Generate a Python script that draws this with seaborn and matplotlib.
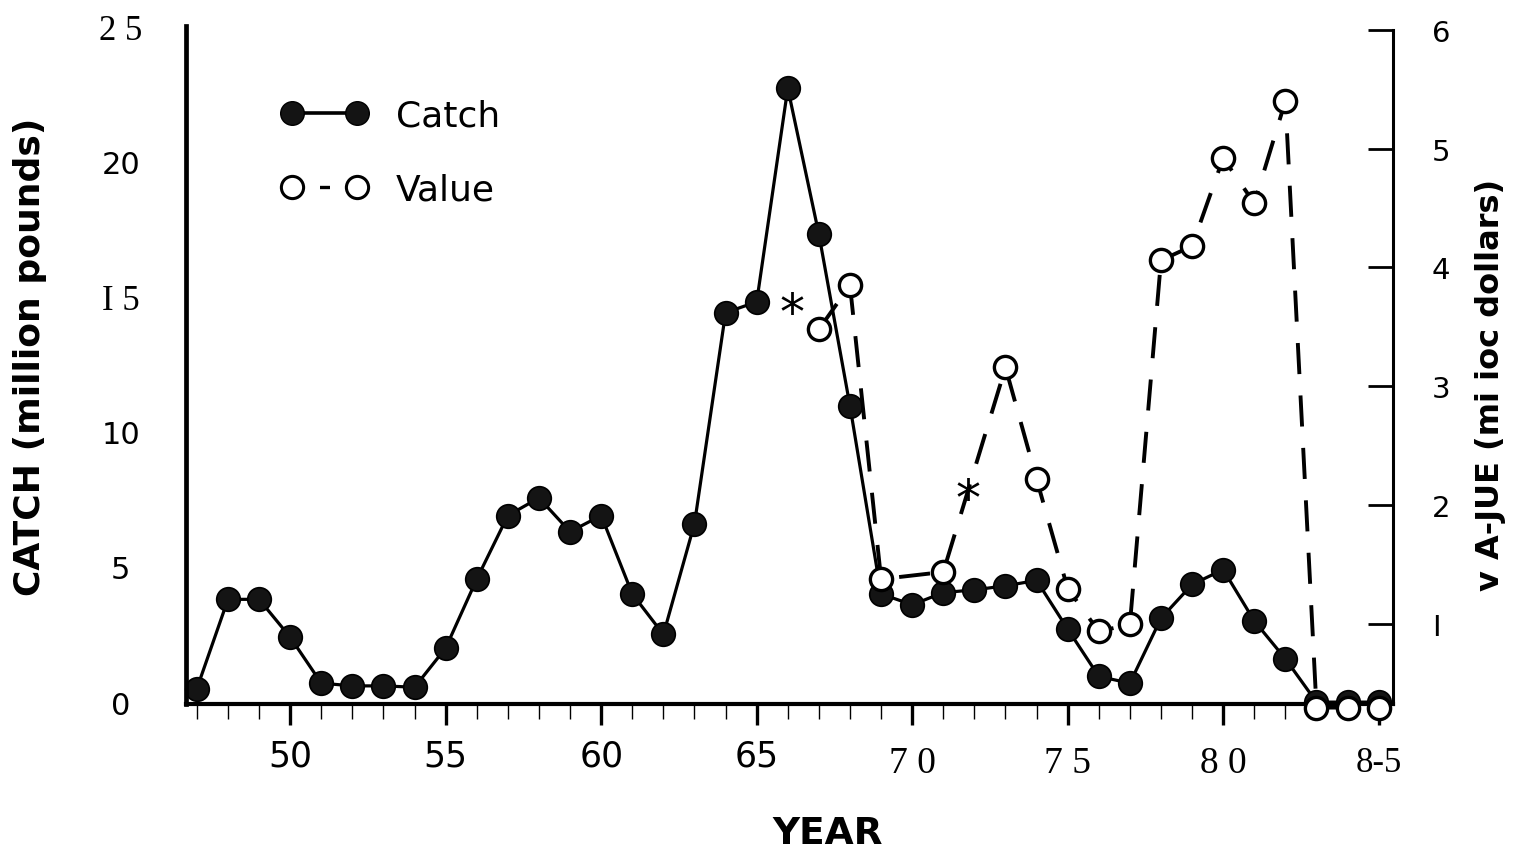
import matplotlib
matplotlib.use("Agg")
import matplotlib.pyplot as plt
from matplotlib.lines import Line2D
from matplotlib.transforms import offset_copy
import seaborn as sns

# Annual catch (million pounds), 1947-1985
catch_years = list(range(1947, 1986))
catch = [0.5, 3.8, 3.8, 2.4, 0.7, 0.6, 0.6, 0.55, 2.0, 4.55,
         6.9, 7.55, 6.3, 6.9, 4.0, 2.5, 6.6, 14.4, 14.8, 22.7,
         17.3, 10.95, 4.0, 3.6, 4.05, 4.15, 4.3, 4.5, 2.7, 0.95,
         0.7, 3.1, 4.35, 4.9, 3.0, 1.6, 0.0, 0.0, 0.0]

# Ex-vessel value (million dollars)
value_years = [1967, 1968, 1969, 1971, 1973, 1974, 1975, 1976, 1977,
               1978, 1979, 1980, 1981, 1982, 1983, 1984, 1985]
value = [3.48, 3.85, 1.38, 1.44, 3.16, 2.22, 1.30, 0.94, 1.00,
         4.06, 4.18, 4.92, 4.54, 5.40, 0.30, 0.30, 0.30]

# Years flagged with an asterisk (value axis)
star_years = [1966.15, 1971.8]
star_values = [3.70, 2.14]

left_ticks = [0, 5, 10, 15, 20, 25]
left_labels = ["0", "5", "10", "I 5", "20", "2 5"]
right_ticks = [1, 2, 3, 4, 5, 6]
right_labels = ["I", "2", "3", "4", "5", "6"]
x_major = [1950, 1955, 1960, 1965, 1970, 1975, 1980, 1985]
x_labels = ["50", "55", "60", "65", "7 0", "7 5", "8 0", "8-5"]
x_label_serif = [False, False, False, False, True, True, True, True]

sns.set_style("white")
plt.rcParams["font.family"] = ["DejaVu Sans"]
plt.rcParams["text.color"] = "black"
plt.rcParams["xtick.color"] = "black"
plt.rcParams["ytick.color"] = "black"

fig = plt.figure(figsize=(15.22, 8.54), dpi=100)
ax = fig.add_axes([186 / 1522, 1 - 705 / 854, (1393 - 186) / 1522, (705 - 27) / 854])
ax2 = ax.twinx()

sns.lineplot(x=catch_years, y=catch, ax=ax, color="black", linewidth=2.3,
             marker="o", markersize=17, markerfacecolor="#141414",
             markeredgecolor="black", markeredgewidth=1.2)
sns.lineplot(x=value_years, y=value, ax=ax2, color="black", linewidth=2.8,
             marker="o", markersize=16, markerfacecolor="white",
             markeredgecolor="black", markeredgewidth=2.4)
for ln in ax2.get_lines():
    ln.set_linestyle((0, (8, 5.5)))
    ln.set_clip_on(False)
for ln in ax.get_lines():
    ln.set_clip_on(False)

star_tf = offset_copy(ax2.transData, fig=fig, x=0, y=-8, units="points")
for xs, ys in zip(star_years, star_values):
    ax2.text(xs, ys, "*", fontsize=36, ha="center", va="center",
             color="black", transform=star_tf)

ax.set_xlim(1946.65, 1985.46)
ax.set_ylim(-0.07, 25.0)
ax2.set_ylim(0.33, 6.03)

# spines
for s in ["top", "right"]:
    ax.spines[s].set_visible(False)
for s in ["top", "left", "bottom"]:
    ax2.spines[s].set_visible(False)
ax.spines["left"].set_linewidth(3.4)
ax.spines["bottom"].set_linewidth(3.0)
ax.spines["left"].set_color("black")
ax.spines["bottom"].set_color("black")
ax2.spines["right"].set_linewidth(2.2)
ax2.spines["right"].set_color("black")
ax2.spines["right"].set_bounds(0.33, 6.0)

# x ticks
ax.set_xticks(x_major)
ax.set_xticks(catch_years, minor=True)
ax.set_xticklabels([""] * len(x_major))
ax.tick_params(axis="x", which="major", direction="out", length=15, width=2.4,
               color="black", bottom=True)
ax.tick_params(axis="x", which="minor", direction="out", length=11, width=1.0,
               color="black", bottom=True)
for xp, lab, serif in zip(x_major, x_labels, x_label_serif):
    if serif:
        ax.text(xp, -0.087, lab, transform=ax.get_xaxis_transform(),
                ha="center", va="center", fontsize=27 if lab != "8-5" else 25,
                family="Liberation Serif")
    else:
        ax.text(xp, -0.076, lab, transform=ax.get_xaxis_transform(),
                ha="center", va="center", fontsize=25, family="DejaVu Sans")

# left y ticks
ax.set_yticks(left_ticks)
ax.set_yticklabels(left_labels)
ax.tick_params(axis="y", left=False, length=0, pad=47)
for t, lab in zip(ax.get_yticklabels(), left_labels):
    t.set_horizontalalignment("center")
    t.set_fontsize(22)
    if lab in ("2 5", "I 5"):
        t.set_family("Liberation Serif")
        t.set_fontsize(25)

# right y ticks
ax2.set_yticks(right_ticks)
ax2.set_yticklabels(right_labels)
ax2.tick_params(axis="y", right=True, direction="in", length=18, width=2.0,
                color="black", pad=28, labelsize=21)
ax.grid(False)
ax2.grid(False)

# legend
handles = [
    Line2D([], [], color="black", linewidth=2.6, marker="o", markersize=17,
           markerfacecolor="#141414", markeredgecolor="black"),
    Line2D([], [], color="black", linewidth=2.4, linestyle=(16.75, (3.0, 22)),
           marker="o", markersize=16, markerfacecolor="white",
           markeredgecolor="black", markeredgewidth=2.2),
]
ax.legend(handles, ["Catch", "Value"], loc="upper left",
          bbox_to_anchor=(0.079, 0.893), frameon=False, numpoints=2,
          fontsize=26, handlelength=2.4, handletextpad=0.78,
          labelspacing=1.1, borderpad=0, borderaxespad=0)

# axis titles
fig.text(828 / 1522, 1 - 834 / 854, "YEAR", fontsize=27, fontweight="bold",
         ha="center", va="center")
fig.text(30 / 1522, 1 - 357 / 854, "CATCH (million pounds)", fontsize=26,
         fontweight="bold", rotation=90, ha="center", va="center")
fig.text(1490 / 1522, 1 - 385 / 854, "v A-JUE (mi ioc dollars)", fontsize=23,
         fontweight="bold", rotation=90, ha="center", va="center")

fig.savefig("out.png", dpi=100)
